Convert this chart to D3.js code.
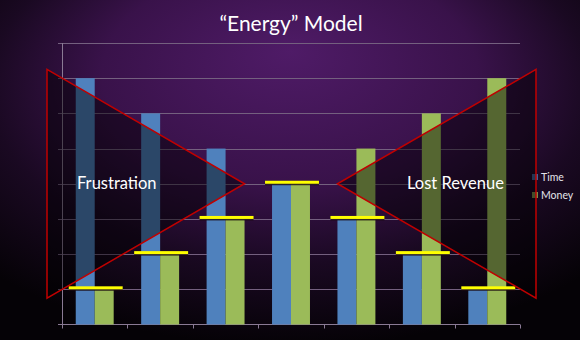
<!DOCTYPE html>
<html><head><meta charset="utf-8">
<script src="https://cdn.jsdelivr.net/npm/d3@7"></script>
<style>html,body{margin:0;padding:0;background:#000;}svg{display:block;}</style>
</head><body><svg id="c" width="580" height="340"></svg>
<script>
const categories = ["1","2","3","4","5","6","7"];
const seriesNames = ["Time","Money"];
const timeValues = [7,6,5,4,3,2,1];
const moneyValues = [1,2,3,4,5,6,7];
const balanceLevel = [1,2,3,4,3,2,1];
const yTicks = [0,1,2,3,4,5,6,7,8];
const title = "\u201CEnergy\u201D Model";
const leftLabel = "Frustration";
const rightLabel = "Lost Revenue";

const colors = {Time:"#4f81bd", Money:"#9bbb59"};
const W = 580, H = 340;
const svg = d3.select("#c");
const defs = svg.append("defs");
const rg = defs.append("radialGradient").attr("id","bg")
  .attr("cx","50%").attr("cy","30%").attr("r","72%").attr("fx","50%").attr("fy","15%");
rg.append("stop").attr("offset","0%").attr("stop-color","#4f1b67");
rg.append("stop").attr("offset","45%").attr("stop-color","#39124a");
rg.append("stop").attr("offset","72%").attr("stop-color","#1a0922");
rg.append("stop").attr("offset","100%").attr("stop-color","#050206");
svg.append("rect").attr("width",W).attr("height",H).attr("fill","url(#bg)");

svg.append("text").attr("x",291).attr("y",31).attr("text-anchor","middle")
  .attr("font-family","Lato, 'Open Sans', sans-serif").attr("font-size",21)
  .attr("fill","#ffffff").text(title);

const x0 = d3.scaleBand().domain(categories).range([62,520]).paddingInner(0.42).paddingOuter(0.21);
const x1 = d3.scaleBand().domain(seriesNames).range([0,x0.bandwidth()]);
const y = d3.scaleLinear().domain([0,8]).range([324.5,43]);

// gridlines
svg.append("g").selectAll("line").data(yTicks.filter(d=>d>0)).join("line")
  .attr("x1",58).attr("x2",520).attr("y1",d=>Math.round(y(d))+0.5).attr("y2",d=>Math.round(y(d))+0.5)
  .attr("stroke","#74607f").attr("stroke-width",1);

// y axis line
svg.append("line").attr("x1",62.5).attr("x2",62.5).attr("y1",43).attr("y2",325)
  .attr("stroke","#8a7a94").attr("stroke-width",1);
// x axis
const xAxis = d3.axisBottom(x0).tickFormat("").tickSize(4);
const gx = svg.append("g").attr("transform","translate(0,324.5)");
gx.call(xAxis);
gx.select(".domain").remove();
gx.selectAll(".tick").remove();
const tickXs = [62].concat(categories.map(c=>x0(c)+x0.bandwidth()+x0.step()*x0.paddingInner()/2));
gx.append("line").attr("x1",58).attr("x2",520).attr("y1",0).attr("y2",0).attr("stroke","#8a7a94");
gx.selectAll("line.t").data(tickXs).join("line").attr("class","t")
  .attr("x1",d=>Math.round(d)+0.5).attr("x2",d=>Math.round(d)+0.5).attr("y1",0).attr("y2",4)
  .attr("stroke","#8a7a94");

// bars
const rows = categories.map((c,i)=>({cat:c, Time:timeValues[i], Money:moneyValues[i], bal:balanceLevel[i]}));
const g = svg.append("g");
g.selectAll("g").data(rows).join("g").attr("transform",d=>`translate(${x0(d.cat)},0)`)
  .selectAll("rect").data(d=>seriesNames.map(s=>({s, v:d[s]}))).join("rect")
  .attr("x",d=>x1(d.s)).attr("width",x1.bandwidth())
  .attr("y",d=>y(d.v)).attr("height",d=>y(0)-y(d.v)).attr("fill",d=>colors[d.s]);

// yellow balance lines
const yl = svg.append("g");
yl.selectAll("rect.sh").data(rows).join("rect").attr("class","sh")
  .attr("x",d=>x0(d.cat)-7).attr("width",x0.bandwidth()+16)
  .attr("y",d=>y(d.bal)-0.5).attr("height",2).attr("fill","#1a0a10").attr("opacity",0.8);
yl.selectAll("rect.yl").data(rows).join("rect").attr("class","yl")
  .attr("x",d=>x0(d.cat)-7).attr("width",x0.bandwidth()+16)
  .attr("y",d=>y(d.bal)-3).attr("height",3).attr("fill","#ffff00");

// legend
const lg = svg.append("g").attr("font-family","Lato, 'Open Sans', sans-serif").attr("font-size",10.5);
seriesNames.forEach((s,i)=>{
  const yy = 177 + i*18;
  lg.append("rect").attr("x",532).attr("y",yy-3).attr("width",6).attr("height",6).attr("fill",colors[s]).attr("opacity",0.75);
  lg.append("text").attr("x",541).attr("y",yy+3.5).attr("fill","#e4e4ea").text(s);
});

// triangles
const mid = 4;
const ax = x0.range()[0], bx = x0.range()[1];
const leftTri = [[ax-15, y(mid+3.25)], [x0(categories[2])+x0.bandwidth(), y(mid)], [ax-15, y(mid-3.25)]];
const rightTri = [[bx+16, y(mid+3.25)], [x0(categories[4]), y(mid)], [bx+16, y(mid-3.25)]];
const line = d3.line();
[leftTri, rightTri].forEach(t=>{
  svg.append("path").attr("d", line(t)+"Z").attr("fill","#000000").attr("fill-opacity",0.45)
    .attr("stroke","#c00000").attr("stroke-width",1.5).attr("stroke-linejoin","miter");
});

svg.append("text").attr("x",77).attr("y",189).attr("font-family","Lato, 'Open Sans', sans-serif")
  .attr("font-size",16.5).attr("fill","#ffffff").text(leftLabel);
svg.append("text").attr("x",407).attr("y",189).attr("font-family","Lato, 'Open Sans', sans-serif")
  .attr("font-size",16.5).attr("fill","#ffffff").text(rightLabel);
</script></body></html>
